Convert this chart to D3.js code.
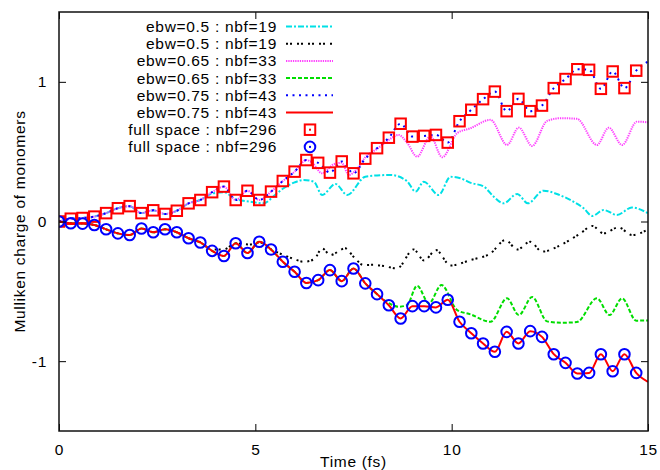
<!DOCTYPE html>
<html>
<head>
<meta charset="utf-8">
<script src="https://cdn.jsdelivr.net/npm/d3@7"></script>
<style>
body { margin: 0; background: #fff; }
svg { font-family: 'Liberation Sans', Arial, sans-serif; font-size: 15.5px; letter-spacing: 0.7px; }
</style>
</head>
<body>
<svg width="660" height="470"></svg>
<script>
// full space run, sampled every 0.3 fs
let fullTime = [0, 0.3, 0.6, 0.9, 1.2, 1.5, 1.8, 2.1, 2.4, 2.7, 3, 3.3, 3.6, 3.9, 4.2, 4.5, 4.8, 5.1, 5.4, 5.7,
    6, 6.3, 6.6, 6.9, 7.2, 7.5, 7.8, 8.1, 8.4, 8.7, 9, 9.3, 9.6, 9.9, 10.2, 10.5, 10.8, 11.1, 11.4, 11.7,
    12, 12.3, 12.6, 12.9, 13.2, 13.5, 13.8, 14.1, 14.4, 14.7]
let fullPos = [0, 0.02, 0.025, 0.035, 0.06, 0.095, 0.11, 0.06, 0.08, 0.054, 0.077, 0.13, 0.154, 0.21, 0.25, 0.154, 0.22, 0.154, 0.214, 0.29,
    0.357, 0.44, 0.42, 0.35, 0.43, 0.345, 0.45, 0.525, 0.6, 0.7, 0.608, 0.613, 0.62, 0.565, 0.718, 0.8, 0.876, 0.93, 0.79, 0.878,
    0.79, 0.83, 0.955, 1.02, 1.09, 1.086, 0.95, 1.074, 0.955, 1.08]
let fullNeg = [0, -0.013, -0.015, -0.025, -0.056, -0.085, -0.097, -0.05, -0.077, -0.056, -0.077, -0.12, -0.15, -0.21, -0.247, -0.156, -0.226, -0.145, -0.2, -0.288,
    -0.36, -0.44, -0.42, -0.348, -0.427, -0.336, -0.443, -0.52, -0.6, -0.694, -0.606, -0.606, -0.615, -0.56, -0.718, -0.8, -0.873, -0.933, -0.79, -0.873,
    -0.785, -0.826, -0.95, -1.012, -1.088, -1.084, -0.95, -1.072, -0.95, -1.084]

// ebw=0.75 : nbf=43 (runs to 15 fs)
let time75 = fullTime.concat([15])
let pos75 = fullPos.concat([1.145])
let neg75 = fullNeg.concat([-1.148])

// ebw=0.5 : nbf=19
let time05Pos = [0, 0.3, 0.6, 0.9, 1.2, 1.5, 1.8, 2.1, 2.4, 2.7, 3, 3.3, 3.6, 3.9, 4.2, 4.5, 4.87, 5.21, 5.5, 5.72,
    6, 6.23, 6.49, 6.7, 7.04, 7.34, 7.8, 8.1, 8.44, 8.86, 9.08, 9.29, 9.67, 9.97, 10.22, 10.47, 10.82, 11.07, 11.32, 11.67,
    11.94, 12.34, 12.68, 13.02, 13.36, 13.58, 13.87, 14.21, 14.59, 15]
let pos05 = [0, 0.02, 0.025, 0.035, 0.06, 0.095, 0.11, 0.06, 0.08, 0.054, 0.077, 0.13, 0.154, 0.2, 0.21, 0.16, 0.142, 0.13, 0.19, 0.238,
    0.28, 0.297, 0.285, 0.19, 0.269, 0.19, 0.321, 0.33, 0.333, 0.29, 0.214, 0.285, 0.19, 0.32, 0.31, 0.278, 0.25, 0.178, 0.13, 0.197,
    0.13, 0.221, 0.197, 0.154, 0.095, 0.04, 0.082, 0.047, 0.1, 0.059]
let time05Neg = [0, 0.3, 0.6, 0.9, 1.2, 1.5, 1.8, 2.1, 2.4, 2.7, 3, 3.3, 3.6, 3.9, 4.2, 4.5, 4.85, 5.1, 5.4, 5.72,
    6, 6.23, 6.5, 6.7, 6.91, 7.29, 7.5, 7.76, 8, 8.27, 8.61, 9.03, 9.3, 9.6, 9.97, 10.48, 10.99, 11.37, 11.67, 12,
    12.3, 12.78, 13.28, 13.58, 13.87, 14.25, 14.59, 15]
let neg05 = [0, -0.013, -0.015, -0.025, -0.056, -0.085, -0.097, -0.05, -0.077, -0.056, -0.077, -0.12, -0.15, -0.2, -0.2, -0.156, -0.165, -0.15, -0.2, -0.24,
    -0.27, -0.288, -0.27, -0.192, -0.24, -0.192, -0.252, -0.312, -0.31, -0.319, -0.336, -0.2, -0.28, -0.204, -0.315, -0.276, -0.228, -0.133, -0.2, -0.145,
    -0.216, -0.168, -0.085, -0.032, -0.085, -0.042, -0.097, -0.056]

// ebw=0.65 : nbf=33
let time065Pos = [0, 0.3, 0.6, 0.9, 1.2, 1.5, 1.8, 2.1, 2.4, 2.7, 3, 3.3, 3.6, 3.9, 4.2, 4.5, 4.8, 5.1, 5.4, 5.7,
    6, 6.3, 6.45, 6.7, 7, 7.2, 7.38, 7.6, 7.8, 8.1, 8.4, 8.65, 8.85, 9.12, 9.46, 9.76, 10.14, 10.48, 10.99, 11.41,
    11.71, 12.05, 12.43, 12.8, 13.19, 13.7, 14, 14.34, 14.72, 15]
let pos065 = [0, 0.02, 0.025, 0.035, 0.06, 0.095, 0.11, 0.06, 0.08, 0.054, 0.077, 0.13, 0.154, 0.21, 0.25, 0.154, 0.22, 0.154, 0.214, 0.29,
    0.357, 0.44, 0.42, 0.345, 0.41, 0.42, 0.333, 0.38, 0.46, 0.52, 0.585, 0.62, 0.57, 0.465, 0.61, 0.46, 0.632, 0.668, 0.728, 0.548,
    0.672, 0.541, 0.72, 0.74, 0.735, 0.548, 0.672, 0.548, 0.715, 0.71]
let time065Neg = [0, 0.3, 0.6, 0.9, 1.2, 1.5, 1.8, 2.1, 2.4, 2.7, 3, 3.3, 3.6, 3.9, 4.2, 4.5, 4.8, 5.1, 5.4, 5.7,
    6, 6.3, 6.6, 6.9, 7.2, 7.5, 7.8, 8.1, 8.4, 8.65, 8.86, 9.12, 9.42, 9.74, 10.14, 10.48, 10.99, 11.41, 11.71, 12.05,
    12.43, 12.8, 13.19, 13.7, 14.02, 14.34, 14.7, 15]
let neg065 = [0, -0.013, -0.015, -0.025, -0.056, -0.085, -0.097, -0.05, -0.077, -0.056, -0.077, -0.12, -0.15, -0.21, -0.247, -0.156, -0.226, -0.145, -0.2, -0.288,
    -0.36, -0.44, -0.42, -0.348, -0.427, -0.336, -0.443, -0.52, -0.585, -0.61, -0.6, -0.46, -0.586, -0.455, -0.634, -0.665, -0.718, -0.55, -0.67, -0.541,
    -0.715, -0.725, -0.72, -0.55, -0.67, -0.55, -0.71, -0.708]

let legendLabels = ['ebw=0.5 : nbf=19', 'ebw=0.5 : nbf=19', 'ebw=0.65 : nbf=33', 'ebw=0.65 : nbf=33',
    'ebw=0.75 : nbf=43', 'ebw=0.75 : nbf=43', 'full space : nbf=296', 'full space : nbf=296']
let xTicks = [0, 5, 10, 15]
let yTicks = [-1, 0, 1]

let svg = d3.select('svg')
let margin = {left: 59, top: 12, right: 12, bottom: 39}
let w = 660 - margin.left - margin.right
let h = 470 - margin.top - margin.bottom

let xScale = d3.scaleLinear().domain([0, 15]).range([0, w])
let yScale = d3.scaleLinear().domain([-1.5, 1.5]).range([h, 0])

let g = svg.append('g').attr('transform', `translate(${margin.left},${margin.top})`)

g.append('clipPath').attr('id', 'clip')
    .append('rect').attr('width', w).attr('height', h)

let lineGen = d3.line()
    .x(d => xScale(d[0]))
    .y(d => yScale(d[1]))
    .curve(d3.curveMonotoneX)

let lineStyles = [
    {data: d3.zip(time05Pos, pos05), color: '#00e0e6', dash: '6,2,2,2'},
    {data: d3.zip(time05Neg, neg05), color: '#000000', dash: '2,2,2,5'},
    {data: d3.zip(time065Pos, pos065), color: '#ff40ff', dash: '1.3,1'},
    {data: d3.zip(time065Neg, neg065), color: '#00dd00', dash: '4,2'},
    {data: d3.zip(time75, pos75), color: '#0000ff', dash: '2,4.5'},
    {data: d3.zip(time75, neg75), color: '#ff0000', dash: null}
]

let plot = g.append('g').attr('clip-path', 'url(#clip)')

lineStyles.forEach(s => {
    plot.append('path')
        .attr('d', lineGen(s.data))
        .attr('fill', 'none')
        .attr('stroke', s.color)
        .attr('stroke-width', 2)
        .attr('stroke-dasharray', s.dash)
})

let sq = 10.5
plot.selectAll('.sq')
    .data(d3.zip(fullTime, fullPos))
    .enter()
    .append('rect')
    .attr('class', 'sq')
    .attr('x', d => xScale(d[0]) - sq / 2)
    .attr('y', d => yScale(d[1]) - sq / 2)
    .attr('width', sq)
    .attr('height', sq)
    .attr('fill', 'none')
    .attr('stroke', '#ff0000')
    .attr('stroke-width', 2)

plot.selectAll('.ci')
    .data(d3.zip(fullTime, fullNeg))
    .enter()
    .append('circle')
    .attr('class', 'ci')
    .attr('cx', d => xScale(d[0]))
    .attr('cy', d => yScale(d[1]))
    .attr('r', 5.3)
    .attr('fill', 'none')
    .attr('stroke', '#0000ff')
    .attr('stroke-width', 2)

// axes: ticks point inward, mirrored on top and right
let axes = []
axes.push(g.append('g')
    .attr('transform', `translate(0,${h})`)
    .call(d3.axisBottom(xScale).tickValues(xTicks).tickSizeInner(-7).tickSizeOuter(0).tickPadding(13)))
axes.push(g.append('g')
    .call(d3.axisTop(xScale).tickValues(xTicks).tickSizeInner(-7).tickSizeOuter(0).tickFormat('')))
axes.push(g.append('g')
    .call(d3.axisLeft(yScale).tickValues(yTicks).tickSizeInner(-7).tickSizeOuter(0).tickPadding(12)
        .tickFormat(d => String(d))))
axes.push(g.append('g')
    .attr('transform', `translate(${w},0)`)
    .call(d3.axisRight(yScale).tickValues(yTicks).tickSizeInner(-7).tickSizeOuter(0).tickFormat('')))

axes.forEach(a => a.attr('font-size', null).attr('font-family', null))
g.selectAll('.domain').remove()
g.selectAll('.tick line').attr('stroke', '#000').attr('stroke-width', 1)
g.selectAll('.tick text').attr('fill', '#000')

g.append('rect')
    .attr('width', w)
    .attr('height', h)
    .attr('fill', 'none')
    .attr('stroke', '#111')
    .attr('stroke-width', 1.5)

// axis titles
svg.append('text')
    .attr('x', margin.left + w / 2)
    .attr('y', 467)
    .attr('text-anchor', 'middle')
    .text('Time (fs)')

svg.append('text')
    .attr('transform', `translate(25,${margin.top + h / 2}) rotate(-90)`)
    .attr('text-anchor', 'middle')
    .text('Mulliken charge of monomers')

// key
let legend = svg.append('g')
legendLabels.forEach((label, i) => {
    let y = 26.5 + i * 17.2
    legend.append('text')
        .attr('x', 277)
        .attr('y', y)
        .attr('dy', '0.35em')
        .attr('text-anchor', 'end')
        .text(label)
    if (i < 6) {
        let s = lineStyles[i]
        legend.append('line')
            .attr('x1', 286).attr('x2', 333)
            .attr('y1', y).attr('y2', y)
            .attr('stroke', s.color)
            .attr('stroke-width', 2)
            .attr('stroke-dasharray', s.dash)
    } else if (i === 6) {
        legend.append('rect')
            .attr('x', 310 - sq / 2).attr('y', y - sq / 2)
            .attr('width', sq).attr('height', sq)
            .attr('fill', 'none').attr('stroke', '#ff0000').attr('stroke-width', 2)
        legend.append('rect')
            .attr('x', 309).attr('y', y - 1).attr('width', 2).attr('height', 2)
            .attr('fill', '#ff0000')
    } else {
        legend.append('circle')
            .attr('cx', 310).attr('cy', y).attr('r', 5.3)
            .attr('fill', 'none').attr('stroke', '#0000ff').attr('stroke-width', 2)
        legend.append('rect')
            .attr('x', 309).attr('y', y - 1).attr('width', 2).attr('height', 2)
            .attr('fill', '#0000ff')
    }
})
</script>
</body>
</html>
